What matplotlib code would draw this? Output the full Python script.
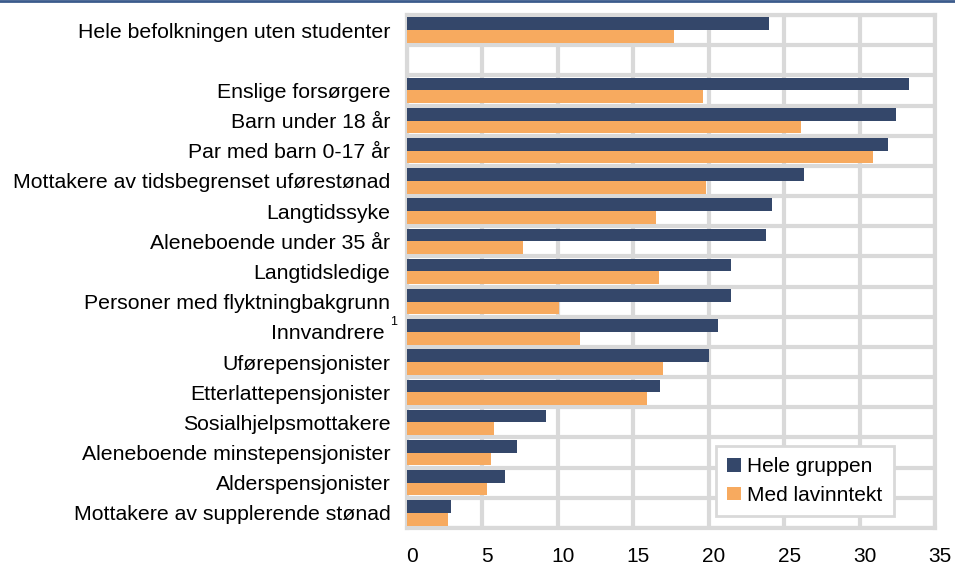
import numpy as np
import matplotlib.pyplot as plt
from matplotlib.lines import Line2D
from matplotlib.transforms import ScaledTranslation

plt.rcParams['font.family'] = ['Liberation Sans', 'DejaVu Sans']

# Categories top to bottom (empty slot after the first row)
categories = [
    'Hele befolkningen uten studenter',
    '',
    'Enslige forsørgere',
    'Barn under 18 år',
    'Par med barn 0-17 år',
    'Mottakere av tidsbegrenset uførestønad',
    'Langtidssyke',
    'Aleneboende under 35 år',
    'Langtidsledige',
    'Personer med flyktningbakgrunn',
    'Innvandrere ',
    'Uførepensjonister',
    'Etterlattepensjonister',
    'Sosialhjelpsmottakere',
    'Aleneboende minstepensjonister',
    'Alderspensjonister',
    'Mottakere av supplerende stønad',
]
hele_gruppen = [24.0, np.nan, 33.3, 32.4, 31.9, 26.3, 24.2, 23.8, 21.5, 21.5,
                20.6, 20.0, 16.8, 9.2, 7.3, 6.5, 2.9]
lavinntekt = [17.7, np.nan, 19.6, 26.1, 30.9, 19.8, 16.5, 7.7, 16.7, 10.1,
              11.5, 17.0, 15.9, 5.8, 5.6, 5.3, 2.7]
x_ticks = [0, 5, 10, 15, 20, 25, 30, 35]

dark = '#34476a'
orange = '#f7aa5f'
grid = '#d9d9d9'

W, H = 955, 567
fig = plt.figure(figsize=(W / 100, H / 100), dpi=100)
ax = fig.add_axes([407 / W, 1 - 528 / H, (935 - 407) / W, (528 - 15) / H])

y = np.arange(len(categories))
h = 0.42
ax.barh(y - h / 2, hele_gruppen, height=h, color=dark, label='Hele gruppen', zorder=3)
ax.barh(y + h / 2, lavinntekt, height=h, color=orange, label='Med lavinntekt', zorder=3)

ax.set_xlim(0, 35)
ax.set_ylim(len(categories) - 0.5, -0.5)
ax.set_yticks(y)
ax.set_yticklabels(categories, fontsize=15.3)
ax.set_yticks(np.arange(len(categories) + 1) - 0.5, minor=True)
ax.set_xticks(x_ticks)
ax.tick_params(axis='y', which='both', length=0, pad=12)
ax.tick_params(axis='x', length=0, pad=14, labelsize=15)
# x labels sit a few pixels right of their gridlines in the original
shift = ScaledTranslation(5 / 100, 0, fig.dpi_scale_trans)
for lab in ax.get_xticklabels():
    lab.set_transform(lab.get_transform() + shift)
ax.grid(axis='x', which='major', color=grid, lw=3, zorder=0)
ax.grid(axis='y', which='minor', color=grid, lw=3, zorder=0)
for s in ax.spines.values():
    s.set_color(grid)
    s.set_linewidth(3)

# superscript footnote marker on "Innvandrere"
ax.annotate('1', xy=(0, categories.index('Innvandrere ')), xycoords=('axes fraction', 'data'),
            xytext=(-10, 7), textcoords='offset points', fontsize=9, ha='center', va='center')

leg = ax.legend(loc='upper left', bbox_to_anchor=(716 / W, 1 - 446 / H),
                bbox_transform=fig.transFigure, borderaxespad=0, fontsize=15,
                fancybox=False, edgecolor=grid, framealpha=1,
                handlelength=0.65, handleheight=0.65, handletextpad=0.3,
                labelspacing=0.45, borderpad=0.55)
leg.get_frame().set_linewidth(2)
leg.set_zorder(5)

fig.add_artist(Line2D([0, 1], [1 - 1 / H, 1 - 1 / H], color='#3b5b8c', lw=2))

fig.savefig('out.png', dpi=100)
